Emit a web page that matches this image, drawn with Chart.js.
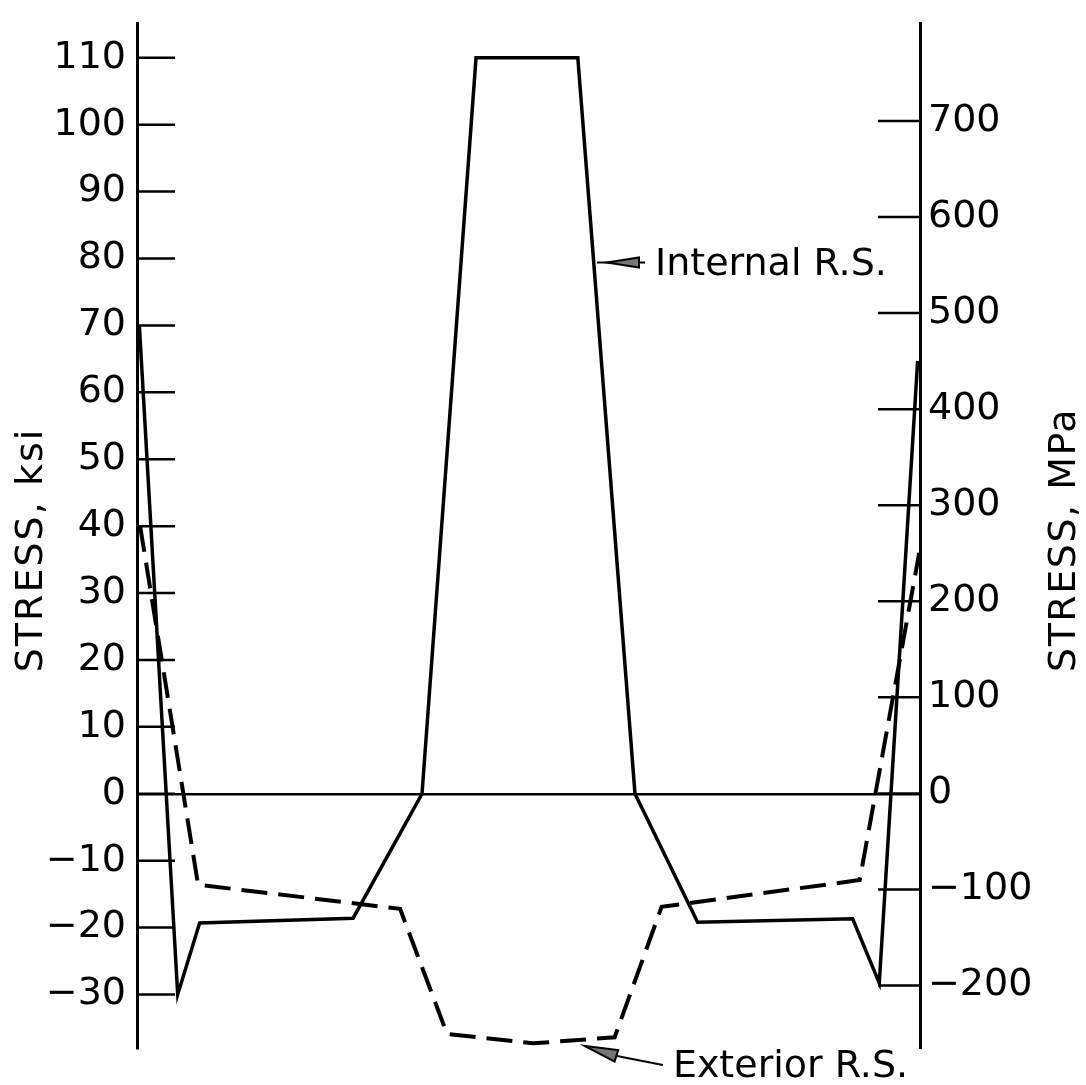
<!DOCTYPE html>
<html>
<head>
<meta charset="utf-8">
<title>Residual stress</title>
<script src="https://cdn.jsdelivr.net/npm/chart.js@4.4.1/dist/chart.umd.min.js"></script>
<style>
  html, body { margin: 0; padding: 0; background: #fff; }
  canvas { display: block; }
</style>
</head>
<body>
<canvas id="stressChart" width="1086" height="1085"></canvas>
<script>
// position across the section, 0 = left edge .. 100 = right edge
const internalX = [0.3, 5.2, 8.0, 27.6, 36.4, 43.3, 56.3, 63.6, 71.6, 91.4, 94.8, 99.7];
// internal residual stress, ksi
const internalKsi = [70, -30, -19.3, -18.6, 0, 110, 110, 0, -19.2, -18.7, -28.3, 64.7];

const exteriorX = [0.4, 7.8, 33.6, 39.6, 50.6, 61.0, 67.0, 92.3, 99.9];
// exterior residual stress, ksi
const exteriorKsi = [40, -13.6, -17.2, -35.9, -37.3, -36.4, -16.9, -12.9, 36];

const ksiTicks = [-30, -20, -10, 0, 10, 20, 30, 40, 50, 60, 70, 80, 90, 100, 110];
const mpaTicks = [-200, -100, 0, 100, 200, 300, 400, 500, 600, 700];

// where the two callout arrows point (x position, ksi)
const internalArrowAt = [58.75, 79.4];
const exteriorArrowAt = [57.2, -37.7];

const FONT = "'DejaVu Sans', sans-serif";

function fmt(v) {
  return v < 0 ? '\u2212' + Math.abs(v) : String(v);
}

function toPoints(xs, ys) {
  return xs.map((x, i) => ({ x: x, y: ys[i] }));
}

// keep the plot box fixed: no extra room for overhanging labels
function fixBox(width) {
  return s => {
    s.width = width;
    s.paddingTop = 0;
    s.paddingBottom = 0;
  };
}

// inward tick marks, axis titles and the two labelled arrows
const decor = {
  id: 'decor',
  afterDraw(chart) {
    const ctx = chart.ctx;
    const area = chart.chartArea;
    const yL = chart.scales.y, yR = chart.scales.y2, xs = chart.scales.x;
    ctx.save();
    ctx.strokeStyle = '#000';
    ctx.fillStyle = '#000';
    ctx.lineWidth = 2.5;

    ctx.beginPath();
    ksiTicks.forEach(v => {
      const p = yL.getPixelForValue(v);
      ctx.moveTo(area.left, p);
      ctx.lineTo(area.left + 38, p);
    });
    mpaTicks.forEach(v => {
      const p = yR.getPixelForValue(v);
      ctx.moveTo(area.right - 42, p);
      ctx.lineTo(area.right, p);
    });
    ctx.stroke();

    // axis titles
    ctx.font = '38px ' + FONT;
    ctx.textAlign = 'center';
    ctx.textBaseline = 'alphabetic';
    ctx.save();
    ctx.letterSpacing = '2px';
    ctx.translate(42, 550);
    ctx.rotate(-Math.PI / 2);
    ctx.fillText('STRESS, ksi', 0, 0);
    ctx.restore();
    ctx.save();
    ctx.letterSpacing = '1.5px';
    ctx.translate(1075, 540);
    ctx.rotate(-Math.PI / 2);
    ctx.fillText('STRESS, MPa', 0, 0);
    ctx.restore();

    // Internal R.S. arrow
    ctx.textAlign = 'left';
    let tx = xs.getPixelForValue(internalArrowAt[0]);
    let ty = yL.getPixelForValue(internalArrowAt[1]);
    ctx.lineWidth = 2;
    ctx.beginPath();
    ctx.moveTo(tx, ty);
    ctx.lineTo(tx + 48, ty);
    ctx.stroke();
    ctx.beginPath();
    ctx.moveTo(tx + 10, ty);
    ctx.lineTo(tx + 42, ty - 5);
    ctx.lineTo(tx + 42, ty + 5);
    ctx.closePath();
    ctx.fillStyle = '#777';
    ctx.fill();
    ctx.stroke();
    ctx.fillStyle = '#000';
    ctx.fillText('Internal R.S.', tx + 58, ty + 12);

    // Exterior R.S. arrow
    tx = xs.getPixelForValue(exteriorArrowAt[0]);
    ty = yL.getPixelForValue(exteriorArrowAt[1]);
    const dx = 32, dy = 10, len = Math.hypot(dx, dy);
    const ux = dx / len, uy = dy / len;
    ctx.beginPath();
    ctx.moveTo(tx + dx, ty + dy);
    ctx.lineTo(tx + 78, ty + 19);
    ctx.stroke();
    ctx.beginPath();
    ctx.moveTo(tx, ty);
    ctx.lineTo(tx + ux * 33 - uy * 6, ty + uy * 33 + ux * 6);
    ctx.lineTo(tx + ux * 33 + uy * 6, ty + uy * 33 - ux * 6);
    ctx.closePath();
    ctx.fillStyle = '#777';
    ctx.fill();
    ctx.stroke();
    ctx.fillStyle = '#000';
    ctx.fillText('Exterior R.S.', tx + 88, ty + 31);

    ctx.restore();
  }
};

Chart.defaults.font.family = FONT;

const stressChart = new Chart(document.getElementById('stressChart'), {
  type: 'line',
  data: {
    datasets: [
      {
        label: 'Internal R.S.',
        data: toPoints(internalX, internalKsi),
        borderColor: '#000',
        borderWidth: 3.5,
        pointRadius: 0,
        tension: 0,
        borderJoinStyle: 'miter',
        yAxisID: 'y'
      },
      {
        label: 'Exterior R.S.',
        data: toPoints(exteriorX, exteriorKsi),
        borderColor: '#000',
        borderWidth: 4,
        borderDash: [26, 11],
        pointRadius: 0,
        tension: 0,
        borderJoinStyle: 'miter',
        yAxisID: 'y'
      }
    ]
  },
  options: {
    responsive: false,
    animation: false,
    devicePixelRatio: 1,
    layout: { padding: { top: 23, bottom: 37, left: 0, right: 0 } },
    plugins: { legend: { display: false }, tooltip: { enabled: false } },
    scales: {
      x: { type: 'linear', min: 0, max: 100, display: false },
      y: {
        position: 'left',
        min: -38,
        max: 115.2,
        afterBuildTicks: s => { s.ticks = ksiTicks.map(v => ({ value: v })); },
        afterFit: fixBox(137),
        ticks: { font: { size: 38 }, color: '#000', padding: 11, autoSkip: false, callback: fmt },
        grid: {
          drawTicks: false,
          lineWidth: 2.5,
          color: c => (c.tick && c.tick.value === 0 ? '#000' : 'rgba(0,0,0,0)')
        },
        border: { color: '#000', width: 3 }
      },
      y2: {
        position: 'right',
        min: -265,
        max: 802,
        afterBuildTicks: s => { s.ticks = mpaTicks.map(v => ({ value: v })); },
        afterFit: fixBox(166),
        ticks: { font: { size: 38 }, color: '#000', padding: 8, autoSkip: false, callback: fmt },
        grid: { display: false, drawTicks: false },
        border: { color: '#000', width: 3 }
      }
    }
  },
  plugins: [decor]
});
</script>
</body>
</html>
